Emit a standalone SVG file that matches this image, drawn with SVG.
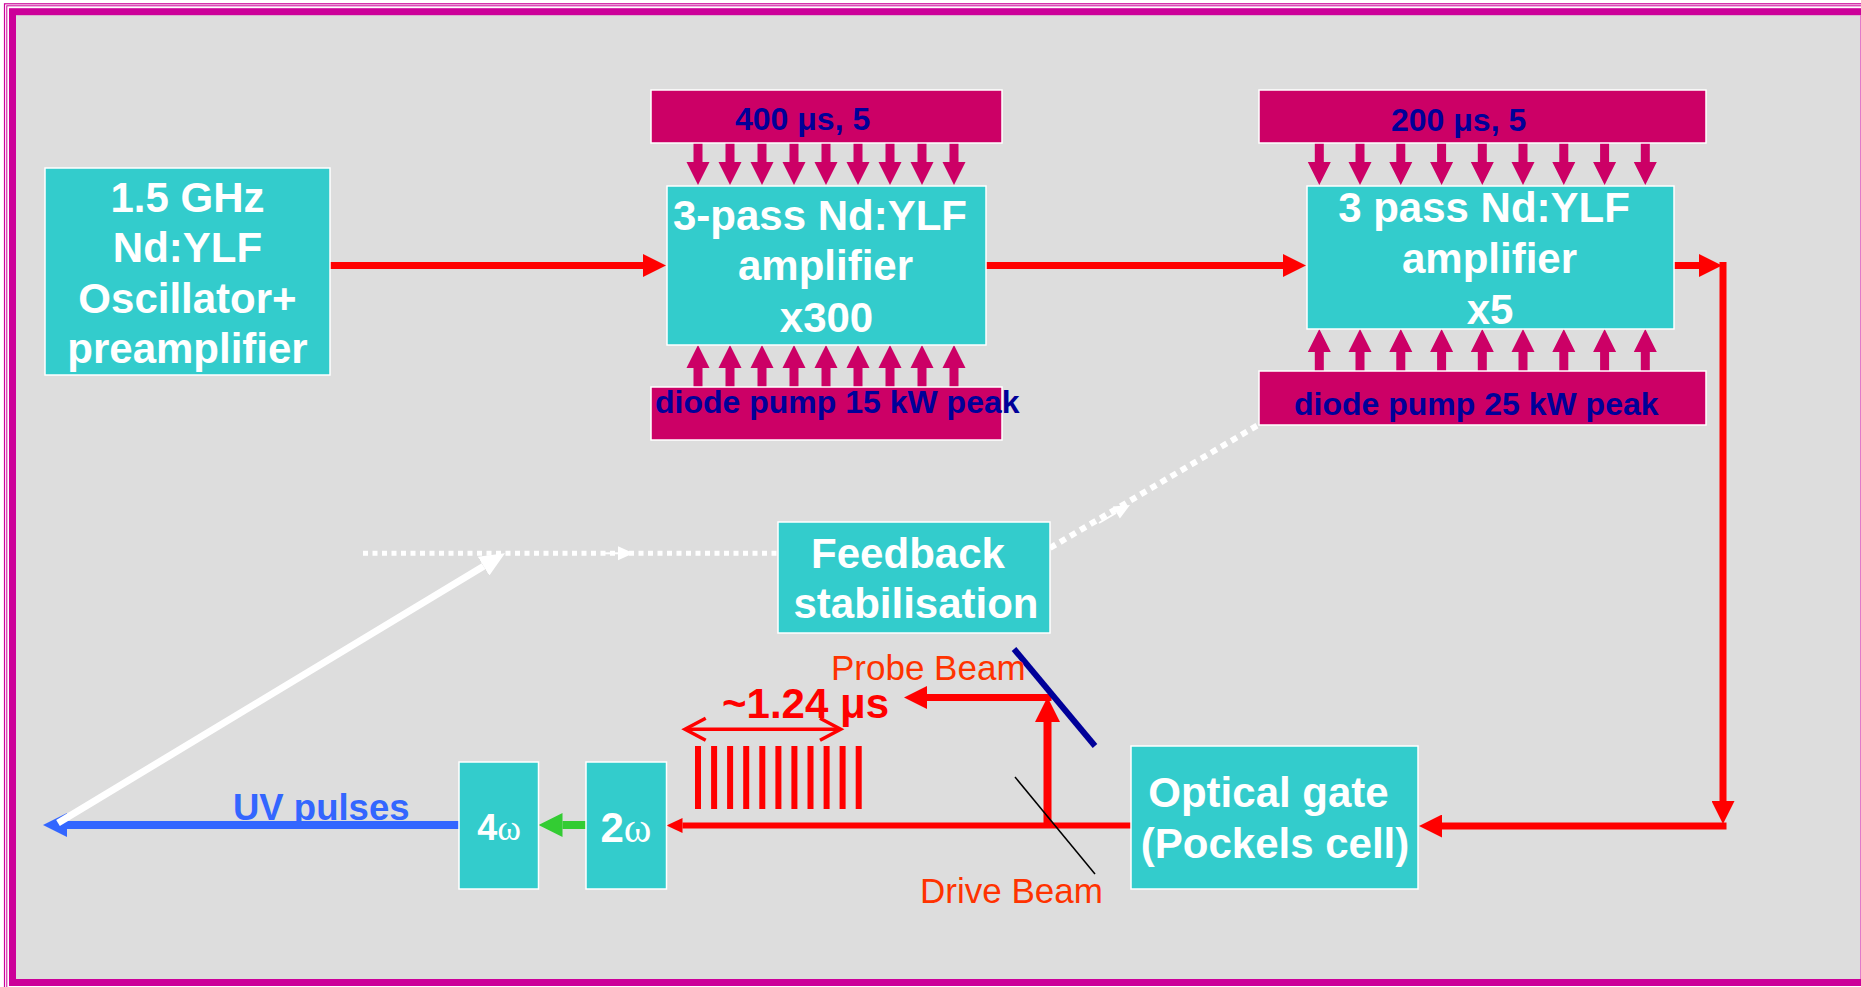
<svg xmlns="http://www.w3.org/2000/svg" width="1861" height="987" viewBox="0 0 1861 987">
<style>
.box{fill:#33CCCC;stroke:#FFFFFF;stroke-width:1.5}
.bar{fill:#CC0066;stroke:#FFFFFF;stroke-width:1.5}
.pump{fill:#CC0066}
.bt{font-family:'Liberation Sans',Arial,sans-serif;font-weight:bold;font-size:42px;fill:#FFFFFF;text-anchor:middle}
.om{font-family:'Liberation Serif','Times New Roman',serif;font-weight:normal}
.pt{font-family:'Liberation Sans',Arial,sans-serif;font-weight:bold;font-size:32px;fill:#000099}
.lbl{font-family:'Liberation Sans',Arial,sans-serif;font-size:35px;fill:#FF3300}
.rl{stroke:#FF0000;fill:none}
.dot{stroke:#FFFFFF;fill:none}
</style>
<defs>
<marker id="hRed" viewBox="0 0 23 23" markerWidth="23" markerHeight="23" refX="0" refY="11.5" orient="auto" markerUnits="userSpaceOnUse"><path d="M0,0 L23,11.5 L0,23 Z" fill="#FF0000"/></marker>
<marker id="hRedW" viewBox="0 0 25 25" markerWidth="25" markerHeight="25" refX="0" refY="12.5" orient="auto" markerUnits="userSpaceOnUse"><path d="M0,0 L25,12.5 L0,25 Z" fill="#FF0000"/></marker>
<marker id="hRedS" viewBox="0 0 16 15" markerWidth="16" markerHeight="15" refX="0" refY="7.5" orient="auto" markerUnits="userSpaceOnUse"><path d="M0,0 L16,7.5 L0,15 Z" fill="#FF0000"/></marker>
<marker id="hGreen" viewBox="0 0 24 24" markerWidth="24" markerHeight="24" refX="0" refY="12" orient="auto" markerUnits="userSpaceOnUse"><path d="M0,0 L24,12 L0,24 Z" fill="#33CC33"/></marker>
<marker id="hBlue" viewBox="0 0 24 24" markerWidth="24" markerHeight="24" refX="0" refY="12" orient="auto" markerUnits="userSpaceOnUse"><path d="M0,0 L24,12 L0,24 Z" fill="#3366FF"/></marker>
<marker id="hWhite" viewBox="0 0 25 22" markerWidth="25" markerHeight="22" refX="0" refY="11" orient="auto" markerUnits="userSpaceOnUse"><path d="M0,0 L25,11 L0,22 Z" fill="#FFFFFF"/></marker>
<path id="pumpDown" class="pump" d="M-4.5,0 V19 H-11.5 L0,42 L11.5,19 H4.5 V0 Z"/>
</defs>

<!-- frame -->
<rect x="0" y="0" width="1861" height="987" fill="#FFFFFF"/>
<rect x="4.5" y="3.8" width="1900" height="1000" fill="none" stroke="#CC0099" stroke-width="1.2"/>
<rect x="6.8" y="5.8" width="1900" height="1000" fill="none" stroke="#CC0099" stroke-width="1"/>
<rect x="12.5" y="11.7" width="1870" height="970.8" fill="#DDDDDD" stroke="#CC0099" stroke-width="7"/>
<line x1="1860.5" y1="15" x2="1860.5" y2="979" stroke="#E07ACB" stroke-width="1"/>

<!-- pump arrows -->
<g id="pump-arrows">
<use href="#pumpDown" x="698" y="143"/><use href="#pumpDown" x="730" y="143"/><use href="#pumpDown" x="762" y="143"/><use href="#pumpDown" x="794" y="143"/><use href="#pumpDown" x="826" y="143"/><use href="#pumpDown" x="858" y="143"/><use href="#pumpDown" x="890" y="143"/><use href="#pumpDown" x="922" y="143"/><use href="#pumpDown" x="954" y="143"/>
<g transform="translate(0,387) scale(1,-1)">
<use href="#pumpDown" x="698"/><use href="#pumpDown" x="730"/><use href="#pumpDown" x="762"/><use href="#pumpDown" x="794"/><use href="#pumpDown" x="826"/><use href="#pumpDown" x="858"/><use href="#pumpDown" x="890"/><use href="#pumpDown" x="922"/><use href="#pumpDown" x="954"/>
</g>
<use href="#pumpDown" x="1319.3" y="143"/><use href="#pumpDown" x="1360" y="143"/><use href="#pumpDown" x="1400.8" y="143"/><use href="#pumpDown" x="1441.6" y="143"/><use href="#pumpDown" x="1482.3" y="143"/><use href="#pumpDown" x="1523" y="143"/><use href="#pumpDown" x="1563.8" y="143"/><use href="#pumpDown" x="1604.6" y="143"/><use href="#pumpDown" x="1645.3" y="143"/>
<g transform="translate(0,371) scale(1,-1)">
<use href="#pumpDown" x="1319.3"/><use href="#pumpDown" x="1360"/><use href="#pumpDown" x="1400.8"/><use href="#pumpDown" x="1441.6"/><use href="#pumpDown" x="1482.3"/><use href="#pumpDown" x="1523"/><use href="#pumpDown" x="1563.8"/><use href="#pumpDown" x="1604.6"/><use href="#pumpDown" x="1645.3"/>
</g>
</g>

<!-- connectors -->
<g id="connectors">
<path class="rl" stroke-width="7" d="M330,265.5 H643" marker-end="url(#hRed)"/>
<path class="rl" stroke-width="7" d="M986,265.5 H1283" marker-end="url(#hRed)"/>
<path class="rl" stroke-width="7" d="M1674,265.5 H1699" marker-end="url(#hRed)"/>
<path class="rl" stroke-width="7" d="M1723,262 V801" marker-end="url(#hRed)"/>
<path class="rl" stroke-width="7" d="M1726.5,826 H1442" marker-end="url(#hRed)"/>
<path class="rl" stroke-width="6" d="M1131,825.5 H682.5" marker-end="url(#hRedS)"/>
<path class="rl" stroke-width="8" d="M1047.5,825 V722" marker-end="url(#hRedW)"/>
<path class="rl" stroke-width="7" d="M1051.5,697.5 H927" marker-end="url(#hRed)"/>
<path stroke="#33CC33" stroke-width="8" fill="none" d="M586,825 H562.5" marker-end="url(#hGreen)"/>
<path stroke="#3366FF" stroke-width="8" fill="none" d="M459,825 H67" marker-end="url(#hBlue)"/>
<path stroke="#FFFFFF" stroke-width="7" fill="none" d="M58,823 L483.6,566.2" marker-end="url(#hWhite)"/>
<path class="dot" stroke-width="5" stroke-dasharray="5 4.5" d="M363,553.3 H778"/>
<path d="M603,553.3 H620" stroke="#FFFFFF" stroke-width="2"/>
<path d="M618,546.3 L633.5,553.3 L618,560.3 Z" fill="#FFFFFF"/>
<path class="dot" stroke-width="6" stroke-dasharray="6.5 5.2" d="M1050,548 L1258,425"/>
<path d="M1099,523 L1116,513" stroke="#FFFFFF" stroke-width="2"/>
<path d="M1130,505 L1119.9,518.6 L1112.8,506.6 Z" fill="#FFFFFF"/>
<!-- ~1.24 us double arrow -->
<path class="rl" stroke-width="3.5" d="M686,729.3 H840"/>
<path class="rl" stroke-width="3.5" d="M705.7,718.3 L685,729.3 L705.7,740.3 M820,718.3 L840.7,729.3 L820,740.3"/>
<!-- pulse train -->
<g fill="#FF0000">
<rect x="695" y="746" width="6" height="63"/><rect x="711.1" y="746" width="6" height="63"/><rect x="727.1" y="746" width="6" height="63"/><rect x="743.2" y="746" width="6" height="63"/><rect x="759.3" y="746" width="6" height="63"/><rect x="775.4" y="746" width="6" height="63"/><rect x="791.4" y="746" width="6" height="63"/><rect x="807.5" y="746" width="6" height="63"/><rect x="823.6" y="746" width="6" height="63"/><rect x="839.6" y="746" width="6" height="63"/><rect x="855.7" y="746" width="6" height="63"/>
</g>
<!-- mirror and splitter -->
<line x1="1014" y1="649" x2="1095" y2="746" stroke="#000099" stroke-width="6"/>
<line x1="1015" y1="777" x2="1095" y2="874" stroke="#000000" stroke-width="1.5"/>
</g>

<!-- nodes -->
<g id="oscillator">
<rect class="box" x="45" y="168" width="285" height="207"/>
<text class="bt" x="187.5" y="212">1.5 GHz</text>
<text class="bt" x="187.5" y="262">Nd:YLF</text>
<text class="bt" x="187.5" y="313">Oscillator+</text>
<text class="bt" x="187.5" y="363">preamplifier</text>
</g>

<g id="pump1-top">
<rect class="bar" x="651" y="90" width="351" height="53"/>
<text class="pt" x="735" y="130">400 μs, 5</text>
</g>
<g id="amplifier1">
<rect class="box" x="667" y="186" width="319" height="159"/>
<text class="bt" x="820" y="230">3-pass Nd:YLF</text>
<text class="bt" x="825.5" y="280">amplifier</text>
<text class="bt" x="826.5" y="331.5">x300</text>
</g>
<g id="pump1-bottom">
<rect class="bar" x="651" y="387" width="351" height="53"/>
<text class="pt" x="655" y="413">diode pump 15 kW peak</text>
</g>

<g id="pump2-top">
<rect class="bar" x="1259" y="90" width="447" height="53"/>
<text class="pt" x="1391" y="130.5">200 μs, 5</text>
</g>
<g id="amplifier2">
<rect class="box" x="1307" y="186" width="367" height="143"/>
<text class="bt" x="1484" y="221.5">3 pass Nd:YLF</text>
<text class="bt" x="1489.5" y="272.5">amplifier</text>
<text class="bt" x="1490" y="324">x5</text>
</g>
<g id="pump2-bottom">
<rect class="bar" x="1259" y="371" width="447" height="54"/>
<text class="pt" x="1294" y="415">diode pump 25 kW peak</text>
</g>

<g id="feedback">
<rect class="box" x="778" y="522" width="272" height="111"/>
<text class="bt" x="908" y="568">Feedback</text>
<text class="bt" x="916" y="618">stabilisation</text>
</g>

<g id="optical-gate">
<rect class="box" x="1131" y="746" width="287" height="143"/>
<text class="bt" x="1268.5" y="806.5">Optical gate</text>
<text class="bt" x="1275" y="858">(Pockels cell)</text>
</g>

<g id="doubler">
<rect class="box" x="586" y="762" width="80.5" height="127"/>
<text class="bt" x="626" y="842">2<tspan class="om">ω</tspan></text>
</g>

<g id="quadrupler">
<rect class="box" x="459" y="762" width="79.5" height="127"/>
<text class="bt" x="499" y="840" style="font-size:36px">4<tspan class="om">ω</tspan></text>
</g>

<g id="labels">
<text class="lbl" x="831" y="680">Probe Beam</text>
<text class="lbl" x="920" y="903">Drive Beam</text>
<text x="722" y="718" style="font-family:'Liberation Sans',Arial,sans-serif;font-weight:bold;font-size:42px;fill:#FF0000">~1.24 μs</text>
<text x="233" y="820" style="font-family:'Liberation Sans',Arial,sans-serif;font-weight:bold;font-size:36.5px;fill:#3366FF">UV pulses</text>
</g>
</svg>
